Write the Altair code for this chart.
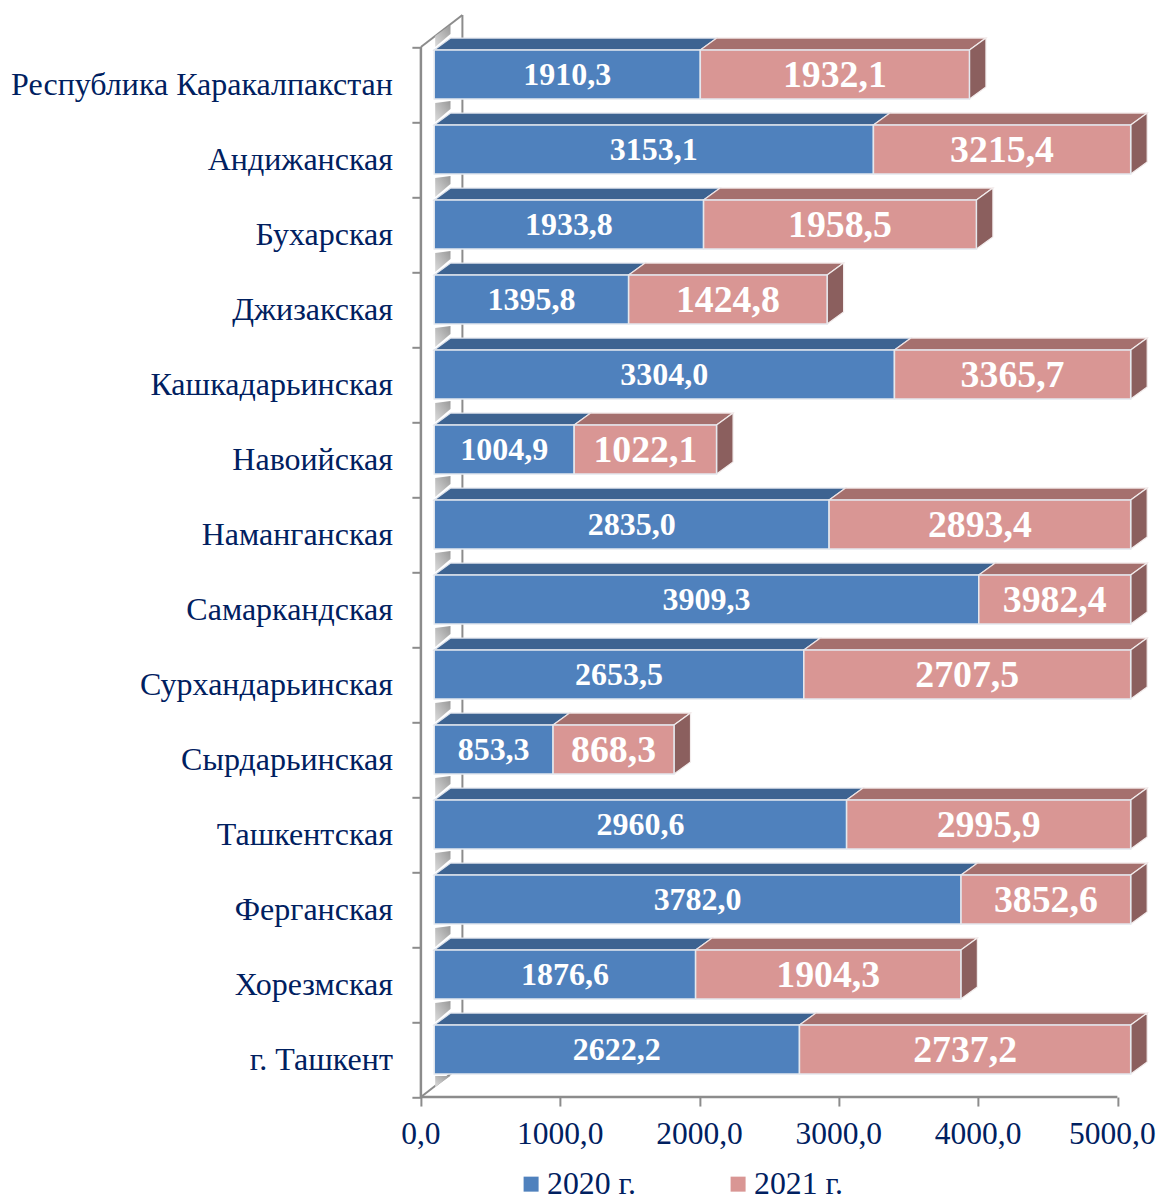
import altair as alt
import pandas as pd

regions = ["Республика Каракалпакстан", "Андижанская", "Бухарская", "Джизакская",
           "Кашкадарьинская", "Навоийская", "Наманганская", "Самаркандская",
           "Сурхандарьинская", "Сырдарьинская", "Ташкентская", "Ферганская",
           "Хорезмская", "г. Ташкент"]
v2020 = [1910.3, 3153.1, 1933.8, 1395.8, 3304.0, 1004.9, 2835.0, 3909.3, 2653.5, 853.3, 2960.6, 3782.0, 1876.6, 2622.2]
v2021 = [1932.1, 3215.4, 1958.5, 1424.8, 3365.7, 1022.1, 2893.4, 3982.4, 2707.5, 868.3, 2995.9, 3852.6, 1904.3, 2737.2]
series = ["2020 г.", "2021 г."]
ticks_x = [0, 1000, 2000, 3000, 4000, 5000]

PXU = 0.1393     # px per value unit
PXR = 75.0       # px per row
BASE = 95.5      # front plane offset
DX = 16.5 / PXU  # depth in value units
DY = 12 / PXR    # depth in row units
MAXV = 5000
TOP, BOT = 3 / PXR, 52 / PXR
W_END = 5215
Y_MIN = -0.45
INK = "#002060"
FONT = "Liberation Serif"
AX = "#8c8c8c"

rects, labels = [], []
faces_b, faces_r, faces_s, patches = [], [], [], []
for i, (a, b) in enumerate(zip(v2020, v2021)):
    x0 = BASE
    x1 = BASE + a
    x2 = min(BASE + a + b, BASE + MAXV)
    ut, ub = i + TOP, i + BOT
    rects.append(dict(s=series[0], x=x0, x2=x1, y=ut, y2=ub))
    rects.append(dict(s=series[1], x=x1, x2=x2, y=ut, y2=ub))
    labels.append(dict(t=f"{a:.1f}".replace(".", ","), x=(x0 + x1) / 2, y=(ut + ub) / 2, big=0))
    labels.append(dict(t=f"{b:.1f}".replace(".", ","), x=(x1 + x2) / 2, y=(ut + ub) / 2, big=1))
    for store, xa, xb in ((faces_b, x0, x1), (faces_r, x1, x2)):
        store.append([dict(x=xa, y=ut, y2=ut), dict(x=xa + DX, y=ut - DY, y2=ut),
                      dict(x=xb, y=ut - DY, y2=ut), dict(x=xb + DX, y=ut - DY, y2=ut - DY)])
    faces_s.append([dict(x=x2, y=ut, y2=ub), dict(x=x2 + DX, y=ut - DY, y2=ub - DY)])
    upper = (11, 22) if i == 0 else (19, 21)
    patches.append([dict(x=BASE + 7, y=i - upper[0] / PXR, y2=i),
                    dict(x=BASE + 7 + 110, y=i - upper[1] / PXR, y2=i - 13 / PXR)])

floor = [dict(x=BASE + 7, y=14 - 21 / PXR, y2=14 - 10 / PXR), dict(x=BASE + 115, y=14 - 21 / PXR, y2=14 - 21 / PXR)]
wall_diag_top = [dict(x=0, y=0), dict(x=298, y=-0.427)]
wall_back = [dict(x=298, y=-0.427), dict(x=298, y=13.57)]
wall_diag_bot = [dict(x=0, y=14), dict(x=298, y=13.57)]
cats = pd.DataFrame(dict(t=regions, x=[0] * 14, y=[i + 0.5 for i in range(14)]))
tick_labels = pd.DataFrame(dict(x=ticks_x, y=[14] * 6, t=[f"{v:.1f}".replace(".", ",") for v in ticks_x]))

xs = alt.Scale(domain=[0, W_END], nice=False, zero=False)
ys = alt.Scale(domain=[Y_MIN, 14], nice=False, zero=False, reverse=True)
X = alt.X("x:Q", scale=xs, title=None, axis=alt.Axis(
    values=ticks_x, title=None, domain=False, grid=False, labels=False, tickSize=9, tickWidth=2, tickColor=AX))
Y = alt.Y("y:Q", scale=ys, title=None, axis=alt.Axis(
    values=list(range(15)), title=None, domain=False, grid=False, labels=False,
    tickSize=9, tickWidth=2, tickColor=AX))


def area(rows, fill, stroke=None):
    extra = dict(stroke=stroke, strokeWidth=1.2) if stroke else {}
    return alt.Chart(pd.DataFrame(rows)).mark_area(color=fill, opacity=1, **extra).encode(x=X, y=Y, y2="y2:Q")


def line(rows, w=2):
    return alt.Chart(pd.DataFrame(rows)).mark_line(color=AX, strokeWidth=w).encode(x=X, y=Y)


grad = alt.Gradient(gradient="linear", x1=1, y1=0, x2=0, y2=1,
                    stops=[alt.GradientStop(offset=0, color="#989898"),
                           alt.GradientStop(offset=1, color="#dcdcdc")])

left = line([dict(x=0, y=0), dict(x=0, y=14)], 2.5)
bottom = line([dict(x=0, y=14), dict(x=5000, y=14)], 2.5)

bars = alt.Chart(pd.DataFrame(rects)).mark_rect(stroke="#e4e8ee", strokeWidth=1.5).encode(
    x=X, x2="x2:Q", y=Y, y2="y2:Q",
    color=alt.Color("s:N", scale=alt.Scale(domain=series, range=["#4f81bd", "#d99694"]),
                    legend=alt.Legend(orient="none", legendX=94.3, legendY=1154.8, direction="horizontal",
                                      columns=2, title=None, symbolType="square", symbolSize=225,
                                      symbolStrokeWidth=0, labelFont=FONT, labelFontSize=31.8, labelColor=INK,
                                      columnPadding=86, labelOffset=0, labelLimit=200, symbolOpacity=1)),
)

ldf = pd.DataFrame(labels)
lab_small = alt.Chart(ldf[ldf["big"] == 0]).mark_text(
    font=FONT, fontWeight="bold", fontSize=32, color="white", baseline="middle", align="center"
).encode(x=X, y=Y, text="t:N")
lab_big = alt.Chart(ldf[ldf["big"] == 1]).mark_text(
    font=FONT, fontWeight="bold", fontSize=37.8, color="white", baseline="middle", align="center", dy=1
).encode(x=X, y=Y, text="t:N")
cat_text = alt.Chart(cats).mark_text(
    font=FONT, fontSize=32, color=INK, align="right", baseline="middle", dx=-28, dy=0
).encode(x=X, y=Y, text="t:N")
tick_main = alt.Chart(tick_labels[tick_labels["x"] < 5000]).mark_text(
    font=FONT, fontSize=31.5, color=INK, align="center", baseline="middle", dy=38
).encode(x=X, y=Y, text="t:N")
tick_last = alt.Chart(tick_labels[tick_labels["x"] == 5000]).mark_text(
    font=FONT, fontSize=31.5, color=INK, align="center", baseline="middle", dy=38, dx=-5
).encode(x=X, y=Y, text="t:N")

layers = [line(wall_diag_top), line(wall_back), line(wall_diag_bot), left, bottom]
layers += [area(p, grad) for p in patches]
layers += [alt.Chart(pd.DataFrame(floor)).mark_area(color=grad).encode(x=X, y=Y, y2="y2:Q")]
layers += [area(f, "#3d6391", stroke="#dfe4ec") for f in faces_b]
layers += [area(f, "#a5706e", stroke="#f0e4e4") for f in faces_r]
layers += [area(f, "#8b5f5e", stroke="#f2ecec") for f in faces_s]
layers += [bars, lab_small, lab_big, cat_text, tick_main, tick_last]

chart = alt.layer(*layers).properties(
    width=W_END * PXU, height=(14 - Y_MIN) * PXR,
    autosize=alt.AutoSizeParams(type="none"),
    padding=dict(left=412.9, top=5.3, right=8.3, bottom=100),
    background="white",
).configure_view(stroke=None)

chart.save("out.html", embed_options={"renderer": "svg", "actions": False})
